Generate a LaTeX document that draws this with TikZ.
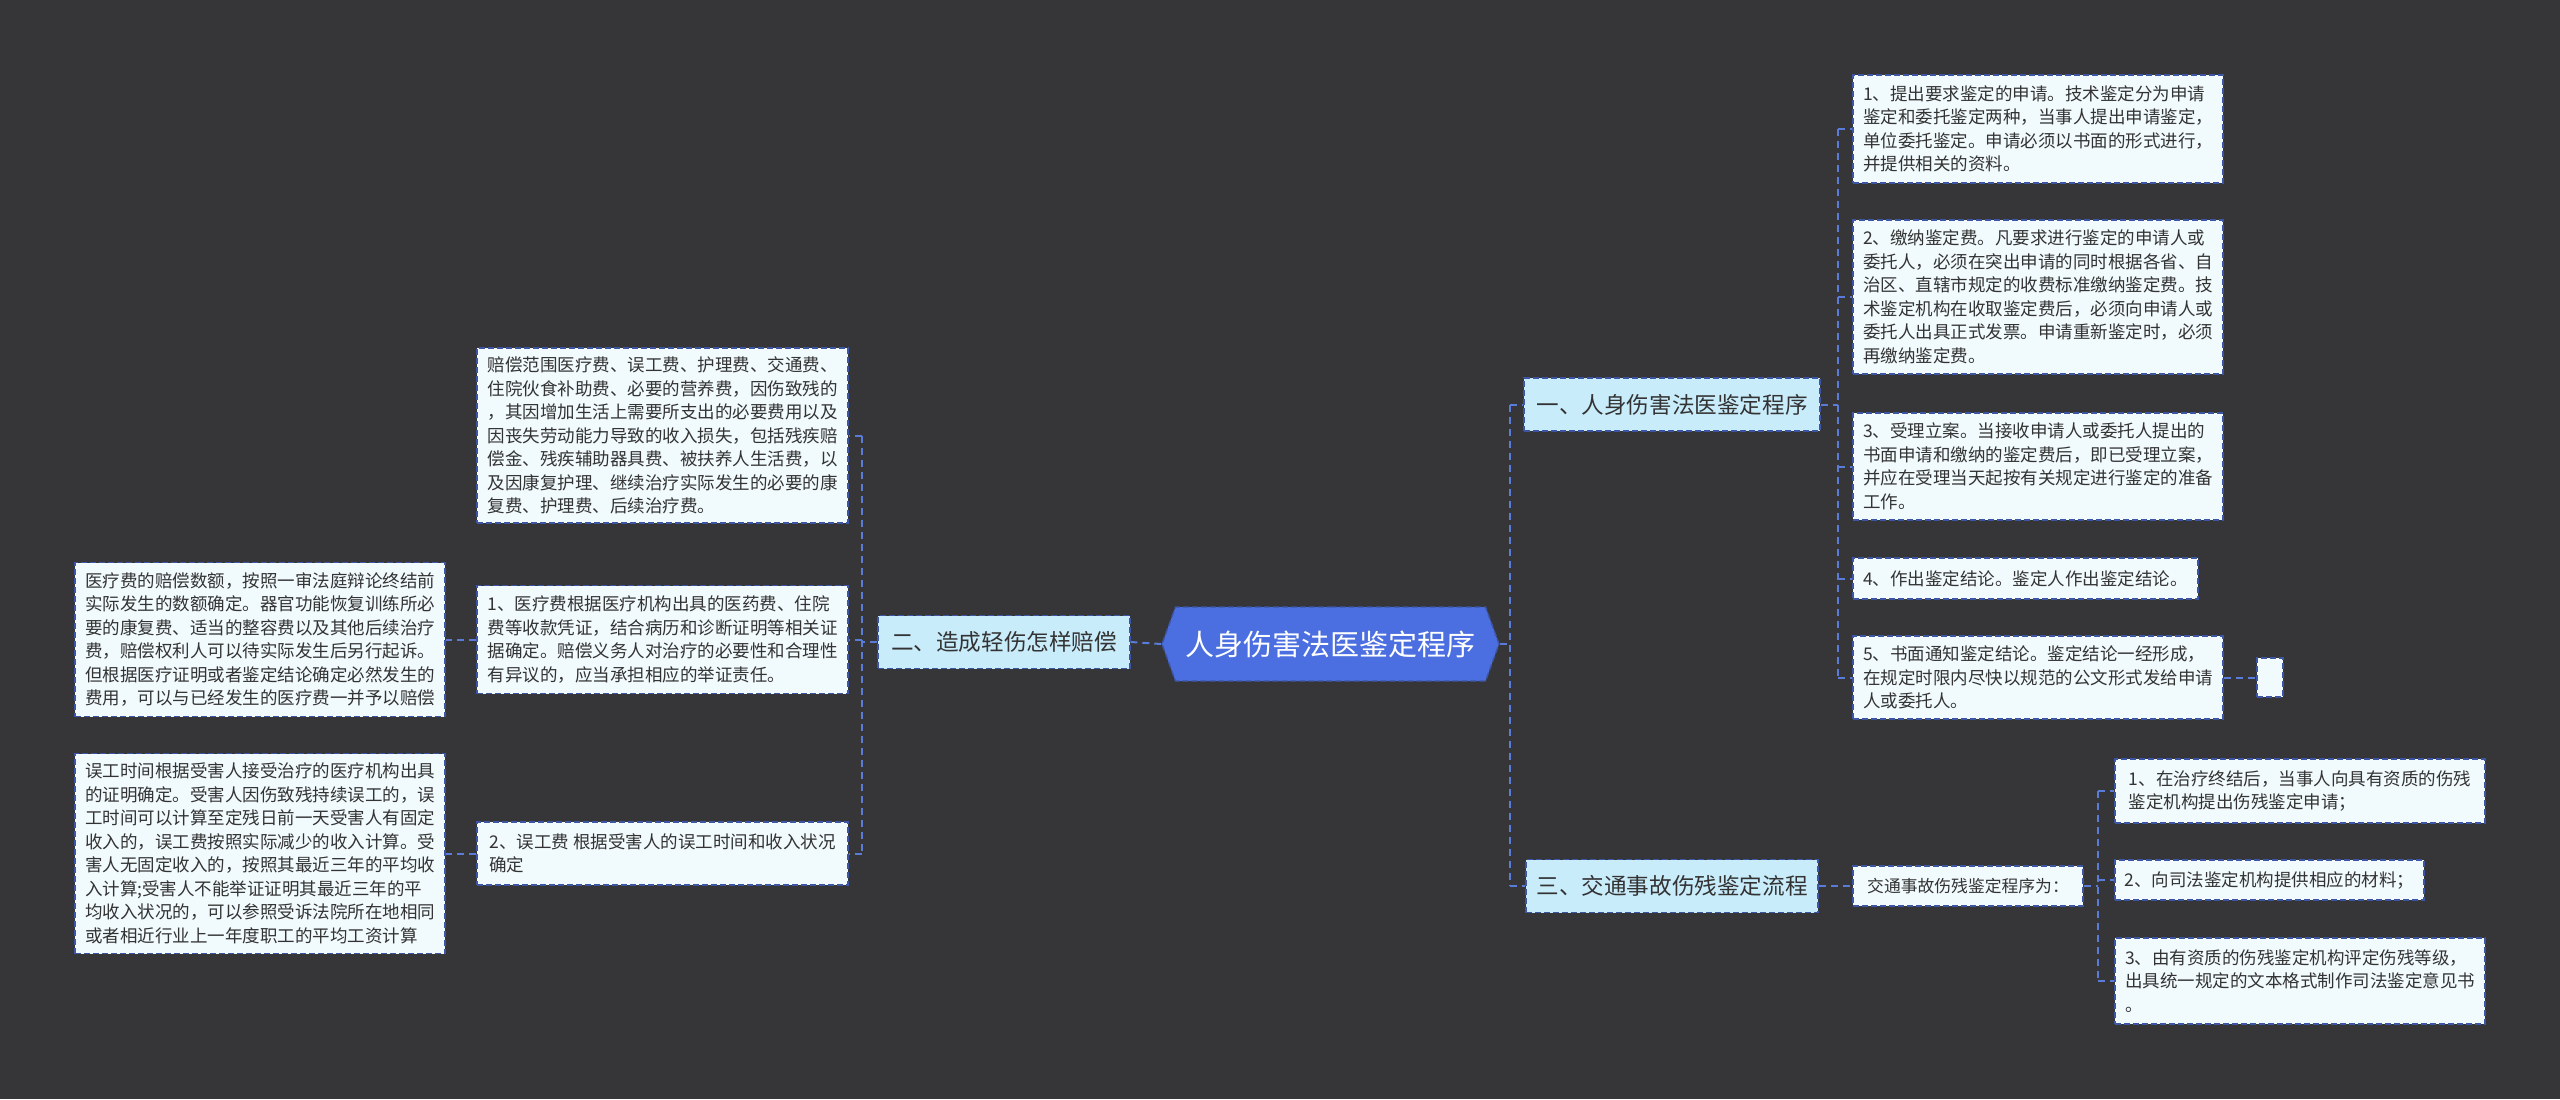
\documentclass[tikz,border=0pt]{standalone}
\usepackage{fontspec}
\setmainfont{Noto Sans CJK SC}
\usetikzlibrary{shapes.symbols}

\definecolor{bg}{HTML}{363638}
\definecolor{lineblue}{HTML}{5A7BD8}
\definecolor{boxborder}{HTML}{3D55A5}
\definecolor{leaffill}{HTML}{F1FAFD}
\definecolor{lonefill}{HTML}{C9ECFB}
\definecolor{rootfill}{HTML}{4B6FE0}
\definecolor{txt}{HTML}{333333}

\begin{document}
\begin{tikzpicture}[x=0.5pt,y=-0.5pt,
  leaf/.style={draw=boxborder, line width=0.7pt, dash pattern=on 3pt off 1.5pt,
    fill=leaffill, text=txt, font=\fontsize{8.75pt}{11.75pt}\selectfont,
    align=left, inner sep=0pt},
  lone/.style={draw=boxborder, line width=0.7pt, dash pattern=on 3pt off 1.5pt,
    fill=lonefill, text=txt, font=\fontsize{11.3pt}{13pt}\selectfont,
    inner sep=0pt, minimum height=26.5pt},
  rootbox/.style={shape=signal, signal to=west and east, signal pointer angle=140,
    draw=boxborder, line width=0.7pt, dash pattern=on 3pt off 1.5pt,
    fill=rootfill, text=white, font=\fontsize{14.5pt}{16pt}\selectfont,
    inner xsep=2pt, inner ysep=0pt, minimum width=168.5pt, minimum height=37pt},
  conn/.style={draw=lineblue, line width=1pt, dash pattern=on 3.5pt off 2.5pt}
]
\fill[bg] (0,0) rectangle (2560,1099);
\useasboundingbox (0,0) rectangle (2560,1099);

% root
\node[rootbox] (root) at (1330.5,644) {人身伤害法医鉴定程序};

% first level
\node[lone, minimum width=148pt] (one) at (1672,404.5) {一、人身伤害法医鉴定程序};
\node[lone, minimum width=146pt] (three) at (1672,886) {三、交通事故伤残鉴定流程};
\node[lone, minimum width=126pt] (two) at (1004,642) {二、造成轻伤怎样赔偿};

% right branch one
\node[leaf, minimum width=185pt, minimum height=54pt] (r1) at (2038,129)
 {1、提出要求鉴定的申请。技术鉴定分为申请\\鉴定和委托鉴定两种，当事人提出申请鉴定，\\单位委托鉴定。申请必须以书面的形式进行，\\并提供相关的资料。};
\node[leaf, minimum width=185pt, minimum height=77pt] (r2) at (2038,297)
 {2、缴纳鉴定费。凡要求进行鉴定的申请人或\\委托人，必须在突出申请的同时根据各省、自\\治区、直辖市规定的收费标准缴纳鉴定费。技\\术鉴定机构在收取鉴定费后，必须向申请人或\\委托人出具正式发票。申请重新鉴定时，必须\\再缴纳鉴定费。};
\node[leaf, minimum width=185pt, minimum height=53.5pt] (r3) at (2038,466.5)
 {3、受理立案。当接收申请人或委托人提出的\\书面申请和缴纳的鉴定费后，即已受理立案，\\并应在受理当天起按有关规定进行鉴定的准备\\工作。};
\node[leaf, minimum width=172.5pt, minimum height=20.5pt] (r4) at (2025.5,578.5)
 {4、作出鉴定结论。鉴定人作出鉴定结论。};
\node[leaf, minimum width=185pt, minimum height=41.5pt] (r5) at (2038,677.5)
 {5、书面通知鉴定结论。鉴定结论一经形成，\\在规定时限内尽快以规范的公文形式发给申请\\人或委托人。};
\node[leaf, minimum width=13pt, minimum height=19.5pt] (r6) at (2270,677.5) {};

% right branch three
\node[leaf, minimum width=115pt, minimum height=20pt, font=\fontsize{8.4pt}{10pt}\selectfont] (t) at (1968,886) {交通事故伤残鉴定程序为：};
\node[leaf, minimum width=185pt, minimum height=32pt] (s1) at (2300,791)
 {1、在治疗终结后，当事人向具有资质的伤残\\鉴定机构提出伤残鉴定申请；};
\node[leaf, minimum width=154.5pt, minimum height=20pt] (s2) at (2269.5,880)
 {2、向司法鉴定机构提供相应的材料；};
\node[leaf, minimum width=185pt, minimum height=43pt] (s3) at (2300,981)
 {3、由有资质的伤残鉴定机构评定伤残等级，\\出具统一规定的文本格式制作司法鉴定意见书\\。};

% left branch two
\node[leaf, minimum width=185.5pt, minimum height=87.5pt] (la) at (662.5,435.5)
 {赔偿范围医疗费、误工费、护理费、交通费、\\住院伙食补助费、必要的营养费，因伤致残的\\，其因增加生活上需要所支出的必要费用以及\\因丧失劳动能力导致的收入损失，包括残疾赔\\偿金、残疾辅助器具费、被扶养人生活费，以\\及因康复护理、继续治疗实际发生的必要的康\\复费、护理费、后续治疗费。};
\node[leaf, minimum width=185.5pt, minimum height=54pt] (lb) at (662.5,639.5)
 {1、医疗费根据医疗机构出具的医药费、住院\\费等收款凭证，结合病历和诊断证明等相关证\\据确定。赔偿义务人对治疗的必要性和合理性\\有异议的，应当承担相应的举证责任。};
\node[leaf, minimum width=185.5pt, minimum height=31.5pt] (lc) at (662.5,853.5)
 {2、误工费 根据受害人的误工时间和收入状况\\确定};
\node[leaf, minimum width=185pt, minimum height=77pt] (fl1) at (260,639.5)
 {医疗费的赔偿数额，按照一审法庭辩论终结前\\实际发生的数额确定。器官功能恢复训练所必\\要的康复费、适当的整容费以及其他后续治疗\\费，赔偿权利人可以待实际发生后另行起诉。\\但根据医疗证明或者鉴定结论确定必然发生的\\费用，可以与已经发生的医疗费一并予以赔偿};
\node[leaf, minimum width=185pt, minimum height=100pt] (fl2) at (260,853.5)
 {误工时间根据受害人接受治疗的医疗机构出具\\的证明确定。受害人因伤致残持续误工的，误\\工时间可以计算至定残日前一天受害人有固定\\收入的，误工费按照实际减少的收入计算。受\\害人无固定收入的，按照其最近三年的平均收\\入计算;受害人不能举证证明其最近三年的平\\均收入状况的，可以参照受诉法院所在地相同\\或者相近行业上一年度职工的平均工资计算};

% bracket coordinates
\coordinate (bR) at (1510,644);
\coordinate (b1) at (1838,404.5);
\coordinate (bT) at (2098,886);
\coordinate (bL) at (862,642);

% connectors root -> one / three
\draw[conn] (root.east) -- (bR);
\draw[conn] (bR |- one.west) -- (bR |- three.west);
\draw[conn] (bR |- one.west) -- (one.west);
\draw[conn] (bR |- three.west) -- (three.west);

% one -> leaves
\draw[conn] (one.east) -- (b1);
\draw[conn] (b1 |- r1.west) -- (b1 |- r5.west);
\foreach \n in {r1,r2,r3,r4,r5} \draw[conn] (b1 |- \n.west) -- (\n.west);
\draw[conn] (r5.east) -- (r6.west);

% three -> t -> subs
\draw[conn] (three.east) -- (t.west);
\draw[conn] (t.east) -- (bT);
\draw[conn] (bT |- s1.west) -- (bT |- s3.west);
\foreach \n in {s1,s2,s3} \draw[conn] (bT |- \n.west) -- (\n.west);

% root -> two -> leaves
\draw[conn] (root.west) -- (two.east);
\draw[conn] (two.west) -- (bL);
\draw[conn] (bL |- la.east) -- (bL |- lc.east);
\foreach \n in {la,lb,lc} \draw[conn] (bL |- \n.east) -- (\n.east);
\draw[conn] (lb.west) -- (fl1.east);
\draw[conn] (lc.west) -- (fl2.east);
\end{tikzpicture}
\end{document}
